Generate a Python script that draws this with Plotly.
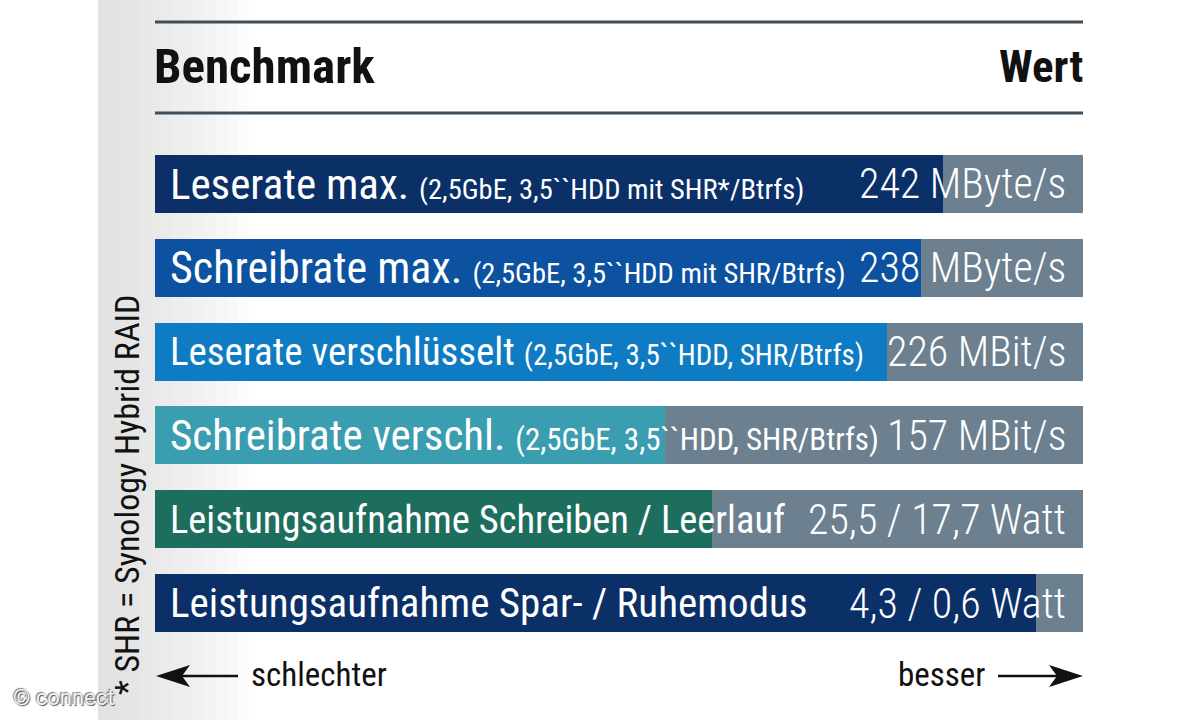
import plotly.graph_objects as go

# ---- data ----
labels_main = [
    "Leserate max.",
    "Schreibrate max.",
    "Leserate verschlüsselt",
    "Schreibrate verschl.",
    "Leistungsaufnahme Schreiben / Leerlauf",
    "Leistungsaufnahme Spar- / Ruhemodus",
]
labels_sub = [
    "(2,5GbE, 3,5``HDD mit SHR*/Btrfs)",
    "(2,5GbE, 3,5``HDD mit SHR/Btrfs)",
    "(2,5GbE, 3,5``HDD, SHR/Btrfs)",
    "(2,5GbE, 3,5``HDD, SHR/Btrfs)",
    "",
    "",
]
value_labels = [
    "242 MByte/s",
    "238 MByte/s",
    "226 MBit/s",
    "157 MBit/s",
    "25,5 / 17,7 Watt",
    "4,3 / 0,6 Watt",
]
scores = [0.849, 0.825, 0.789, 0.550, 0.600, 0.949]  # share of the full bar

# ---- styles ----
bar_colors = ["#0b3068", "#0d52a0", "#0f7bc2", "#3a9db0", "#1e6e5e", "#0b3068"]
track_color = "#6c8090"
main_sizes = [43, 44, 39, 43, 38.5, 41]
sub_sizes = [28.5, 28.5, 29, 31, 0, 0]
value_sizes = [42, 42, 42, 42, 42, 42]

FONT = "Roboto Condensed, Liberation Sans Narrow, Roboto, sans-serif"
W, H = 1200, 720
X0, X1 = 155, 1083
YT, YB = 142, 645

def px(x):
    return (x - X0) / (X1 - X0)

def py(y):
    return (YB - y) / (YB - YT)

n = len(scores)
ypos = list(range(n))

fig = go.Figure()
fig.add_trace(go.Bar(
    y=ypos, x=[1] * n, orientation="h", marker=dict(color=track_color, line_width=0),
    width=0.69, hoverinfo="skip", showlegend=False,
))
fig.add_trace(go.Bar(
    y=ypos, x=scores, orientation="h", marker=dict(color=bar_colors, line_width=0),
    width=0.69, hoverinfo="skip", showlegend=False,
))

annotations = []
for i in range(n):
    txt = labels_main[i]
    if labels_sub[i]:
        txt += f" <span style='font-size:{sub_sizes[i]}px'>" + labels_sub[i] + "</span>"
    annotations.append(dict(
        x=0, y=i, xref="x", yref="y", text=txt, showarrow=False,
        xanchor="left", yanchor="middle", xshift=13, yshift=0,
        font=dict(family=FONT, size=main_sizes[i], color="white"),
    ))
    annotations.append(dict(
        x=1, y=i, xref="x", yref="y", text=value_labels[i], showarrow=False,
        xanchor="right", yanchor="middle", xshift=-15,
        font=dict(family=FONT, size=value_sizes[i], color="white", weight=300),
    ))

# header
annotations.append(dict(x=px(152), y=py(67), xref="paper", yref="paper", text="<b>Benchmark</b>",
                        showarrow=False, xanchor="left", yanchor="middle",
                        font=dict(family=FONT, size=49, color="#111111")))
annotations.append(dict(x=px(1085), y=py(67), xref="paper", yref="paper", text="<b>Wert</b>",
                        showarrow=False, xanchor="right", yanchor="middle",
                        font=dict(family=FONT, size=45, color="#111111")))
# footer
annotations.append(dict(x=px(249), y=py(674), xref="paper", yref="paper", text="schlechter",
                        showarrow=False, xanchor="left", yanchor="middle",
                        font=dict(family=FONT, size=33, color="#111111")))
annotations.append(dict(x=px(987), y=py(674), xref="paper", yref="paper", text="besser",
                        showarrow=False, xanchor="right", yanchor="middle",
                        font=dict(family=FONT, size=33, color="#111111")))
annotations.append(dict(x=px(127), y=py(495), xref="paper", yref="paper",
                        text="* SHR = Synology Hybrid RAID", textangle=-90,
                        showarrow=False, xanchor="center", yanchor="middle",
                        font=dict(family=FONT, size=34, color="#111111")))
annotations.append(dict(x=px(11), y=py(697), xref="paper", yref="paper", text="© connect",
                        showarrow=False, xanchor="left", yanchor="middle",
                        font=dict(family="Roboto, sans-serif", size=22, color="#f4f4f4",
                                  shadow="1px 1px 1px #555, -1px -1px 1px #777")))

shapes = []
# soft grey page edge gradient on the left
for k in range(14):
    shapes.append(dict(type="rect", xref="paper", yref="paper", layer="below",
                       x0=px(98), x1=px(98 + 8 + k * 11), y0=py(720), y1=py(0),
                       fillcolor="#d6d6d6", opacity=0.08, line_width=0))
# header rules
for yy in (22, 113):
    shapes.append(dict(type="line", xref="paper", yref="paper",
                       x0=px(155), x1=px(1083), y0=py(yy), y1=py(yy),
                       line=dict(color="#3e4f5b", width=3)))
# arrows
shapes.append(dict(type="line", xref="paper", yref="paper", x0=px(180), x1=px(238),
                   y0=py(676), y1=py(676), line=dict(color="#111111", width=2.5)))
shapes.append(dict(type="path", xref="paper", yref="paper",
                   path=f"M {px(156)},{py(676)} L {px(190)},{py(665)} L {px(182)},{py(676)} L {px(190)},{py(687)} Z",
                   fillcolor="#111111", line_width=0))
shapes.append(dict(type="line", xref="paper", yref="paper", x0=px(998), x1=px(1058),
                   y0=py(676), y1=py(676), line=dict(color="#111111", width=2.5)))
shapes.append(dict(type="path", xref="paper", yref="paper",
                   path=f"M {px(1083)},{py(676)} L {px(1049)},{py(665)} L {px(1057)},{py(676)} L {px(1049)},{py(687)} Z",
                   fillcolor="#111111", line_width=0))

fig.update_layout(
    width=W, height=H,
    margin=dict(l=X0, r=W - X1, t=YT, b=H - YB, pad=0),
    paper_bgcolor="white", plot_bgcolor="rgba(0,0,0,0)",
    barmode="overlay", bargap=0,
    xaxis=dict(range=[0, 1], visible=False, fixedrange=True),
    yaxis=dict(range=[n - 0.5, -0.5], visible=False, fixedrange=True),
    annotations=annotations, shapes=shapes,
    showlegend=False,
)

fig.write_html("out.html", config={"displayModeBar": False},
               post_script="document.body.style.margin='0px';")
